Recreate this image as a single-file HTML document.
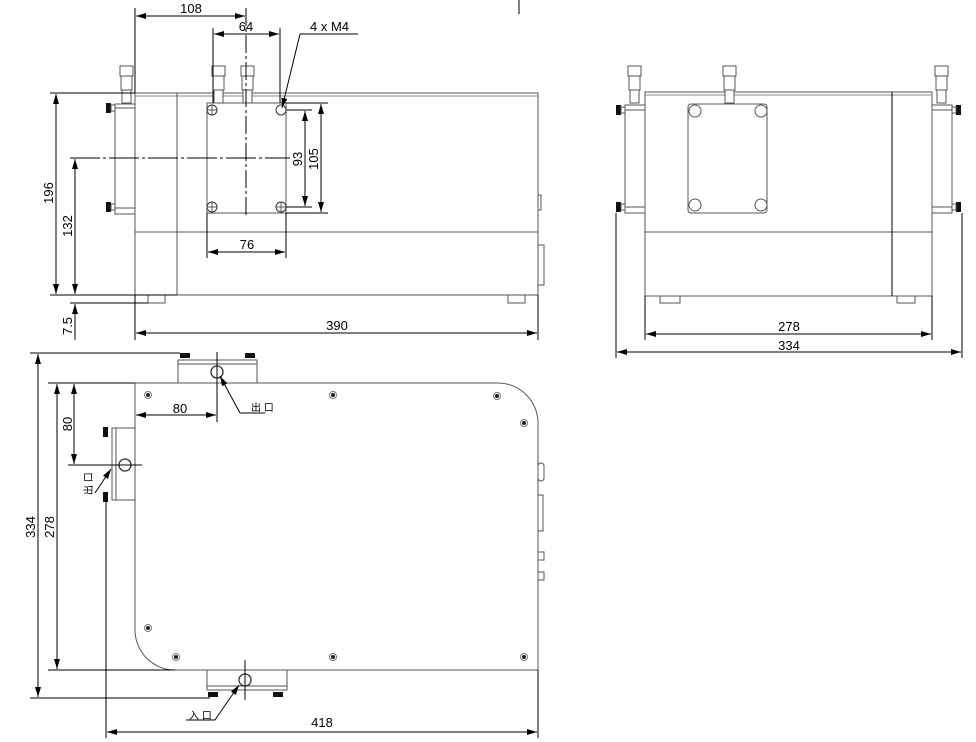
<!DOCTYPE html>
<html><head><meta charset="utf-8"><style>
html,body{margin:0;padding:0;background:#fff;}
svg{display:block;}
text{font-family:"Liberation Sans","Noto Sans CJK SC",sans-serif;fill:#000;}
</style></head><body>
<svg width="976" height="742" viewBox="0 0 976 742" xmlns="http://www.w3.org/2000/svg">
<defs>
<marker id="a" viewBox="0 0 10 6" refX="10" refY="3" markerWidth="10" markerHeight="6" orient="auto-start-reverse" markerUnits="userSpaceOnUse"><path d="M0,0 L10,3 L0,6 z" fill="#000"/></marker>
<g id="fit"><rect x="0" y="0" width="13" height="10" fill="#fff" stroke="#555" stroke-width="1"/><rect x="1" y="10" width="11" height="14" fill="#fff" stroke="#555"/><rect x="2" y="24" width="9" height="13" fill="#fff" stroke="#555"/></g>
<g id="knobL"><rect x="0" y="-5" width="5" height="10" fill="#111"/><rect x="5" y="-3" width="4" height="6" fill="#fff" stroke="#555"/></g>
<g id="knobR"><rect x="4" y="-5" width="5" height="10" fill="#111"/><rect x="0" y="-3" width="4" height="6" fill="#fff" stroke="#555"/></g>
<g id="scr"><circle r="3.5" fill="#fff" stroke="#777"/><circle r="2" fill="#222"/></g>
</defs>
<g fill="none" stroke="#555" stroke-width="1">
<rect x="135" y="93" width="403" height="202"/>
<line x1="135" y1="96" x2="538" y2="96" stroke="#888"/>
<line x1="177" y1="93" x2="177" y2="295"/>
<line x1="135" y1="232" x2="538" y2="232"/>
<rect x="115" y="104" width="20" height="110"/>
<line x1="115" y1="108" x2="135" y2="108"/><line x1="115" y1="208" x2="135" y2="208"/>
<rect x="207" y="103" width="79" height="110"/>
<rect x="148" y="295" width="17" height="8"/><rect x="508" y="295" width="17" height="8"/>
<rect x="538" y="245" width="6" height="40"/><rect x="538" y="195" width="3" height="15"/>
</g>
<use href="#fit" x="120" y="66"/><use href="#fit" x="212" y="66"/><use href="#fit" x="241" y="66"/>
<use href="#knobL" x="106" y="108"/><use href="#knobL" x="106" y="207"/>
<g fill="#fff" stroke="#333" stroke-width="1">
<circle cx="212" cy="110" r="5"/><circle cx="281" cy="110" r="5"/><circle cx="212" cy="207" r="5"/><circle cx="281" cy="207" r="5"/>
</g>
<g stroke="#333" stroke-width="0.8">
<line x1="207" y1="110" x2="217" y2="110"/><line x1="212" y1="105" x2="212" y2="115"/>
<line x1="207" y1="207" x2="217" y2="207"/><line x1="212" y1="202" x2="212" y2="212"/>
<line x1="276" y1="207" x2="286" y2="207"/><line x1="281" y1="202" x2="281" y2="212"/>
</g>
<g stroke="#000" stroke-width="1" fill="none">
<line x1="135" y1="8" x2="135" y2="93"/><line x1="246" y1="8" x2="246" y2="215" stroke-dasharray="18,3,3,3"/>
<line x1="136" y1="16" x2="245" y2="16" marker-start="url(#a)" marker-end="url(#a)"/>
<line x1="213" y1="28" x2="213" y2="103"/><line x1="280" y1="28" x2="280" y2="103"/>
<line x1="214" y1="34" x2="279" y2="34" marker-start="url(#a)" marker-end="url(#a)"/>
<line x1="300" y1="34" x2="358" y2="34"/><line x1="300" y1="34" x2="282" y2="108" marker-end="url(#a)"/>
<line x1="286" y1="110" x2="312" y2="110"/><line x1="286" y1="207" x2="312" y2="207"/>
<line x1="305" y1="111" x2="305" y2="206" marker-start="url(#a)" marker-end="url(#a)"/>
<line x1="286" y1="103" x2="328" y2="103"/><line x1="286" y1="213" x2="328" y2="213"/>
<line x1="321" y1="104" x2="321" y2="212" marker-start="url(#a)" marker-end="url(#a)"/>
<line x1="207" y1="213" x2="207" y2="258"/><line x1="286" y1="213" x2="286" y2="258"/>
<line x1="208" y1="252" x2="285" y2="252" marker-start="url(#a)" marker-end="url(#a)"/>
<line x1="50" y1="93" x2="135" y2="93"/><line x1="50" y1="295" x2="177" y2="295"/>
<line x1="56" y1="94" x2="56" y2="294" marker-start="url(#a)" marker-end="url(#a)"/>
<line x1="70" y1="158" x2="290" y2="158" stroke-dasharray="30,3,3,3"/>
<line x1="75" y1="159" x2="75" y2="294" marker-start="url(#a)" marker-end="url(#a)"/>
<line x1="70" y1="303" x2="148" y2="303"/><line x1="75" y1="304" x2="75" y2="340" marker-start="url(#a)"/>
<line x1="135" y1="295" x2="135" y2="340"/><line x1="538" y1="295" x2="538" y2="340"/>
<line x1="136" y1="333" x2="537" y2="333" marker-start="url(#a)" marker-end="url(#a)"/>
<line x1="519" y1="0" x2="519" y2="14"/>
</g>
<g font-size="13">
<text x="191" y="13" text-anchor="middle">108</text>
<text x="246" y="31" text-anchor="middle">64</text>
<text x="310" y="31">4 x  M4</text>
<text x="247" y="249" text-anchor="middle">76</text>
<text x="337" y="330" text-anchor="middle">390</text>
<text transform="translate(302,159) rotate(-90)" text-anchor="middle">93</text>
<text transform="translate(318,159) rotate(-90)" text-anchor="middle">105</text>
<text transform="translate(53,193) rotate(-90)" text-anchor="middle">196</text>
<text transform="translate(72,226) rotate(-90)" text-anchor="middle">132</text>
<text transform="translate(72,326) rotate(-90)" text-anchor="middle">7.5</text>
</g>
<g fill="none" stroke="#555" stroke-width="1">
<rect x="645" y="92" width="287" height="204"/>
<line x1="645" y1="95" x2="932" y2="95" stroke="#888"/>
<line x1="645" y1="232" x2="932" y2="232"/>
<line x1="892" y1="92" x2="892" y2="296" stroke="#000"/>
<rect x="688" y="104" width="79" height="109" rx="3"/>
<circle cx="695" cy="111" r="6" fill="#fff"/><circle cx="761" cy="111" r="6" fill="#fff"/>
<circle cx="695" cy="205" r="6" fill="#fff"/><circle cx="761" cy="205" r="6" fill="#fff"/>
<rect x="625" y="105" width="20" height="108"/><line x1="625" y1="110" x2="645" y2="110"/><line x1="625" y1="207" x2="645" y2="207"/>
<rect x="932" y="105" width="20" height="108"/><line x1="932" y1="110" x2="952" y2="110"/><line x1="932" y1="207" x2="952" y2="207"/>
<rect x="660" y="296" width="20" height="7"/><rect x="897" y="296" width="18" height="7"/>
</g>
<use href="#fit" x="628" y="66"/><use href="#fit" x="723" y="66"/><use href="#fit" x="935" y="66"/>
<use href="#knobL" x="616" y="110"/><use href="#knobL" x="616" y="207"/>
<use href="#knobR" x="952" y="110"/><use href="#knobR" x="952" y="207"/>
<g stroke="#000" fill="none">
<line x1="645" y1="296" x2="645" y2="340"/><line x1="932" y1="296" x2="932" y2="340"/>
<line x1="646" y1="334" x2="931" y2="334" marker-start="url(#a)" marker-end="url(#a)"/>
<line x1="616" y1="213" x2="616" y2="358"/><line x1="962" y1="213" x2="962" y2="358"/>
<line x1="617" y1="352" x2="961" y2="352" marker-start="url(#a)" marker-end="url(#a)"/>
</g>
<g font-size="13"><text x="789" y="331" text-anchor="middle">278</text><text x="789" y="350" text-anchor="middle">334</text></g>
<g fill="none" stroke="#555" stroke-width="1">
<path d="M135,383 H498 A40,40 0 0 1 538,423 V670 H175 A40,40 0 0 1 135,630 Z"/>
<rect x="178" y="360" width="79" height="23"/><line x1="178" y1="364" x2="257" y2="364"/>
<rect x="207" y="670" width="80" height="20"/><line x1="207" y1="686" x2="287" y2="686"/>
<rect x="112" y="428" width="23" height="72"/><line x1="116" y1="428" x2="116" y2="500"/>
<rect x="538" y="463" width="6" height="18" rx="3"/><rect x="538" y="495" width="5" height="36"/>
<rect x="538" y="552" width="6" height="8"/><rect x="538" y="572" width="6" height="8"/>
</g>
<g fill="#111">
<rect x="180" y="353" width="10" height="5"/><rect x="245" y="353" width="10" height="5"/>
<rect x="208" y="692" width="10" height="5"/><rect x="273" y="692" width="10" height="5"/>
<rect x="103" y="427" width="5" height="10"/><rect x="103" y="492" width="5" height="10"/>
</g>
<g fill="#fff" stroke="#333" stroke-width="1.3">
<circle cx="217" cy="372" r="6"/><circle cx="245" cy="680" r="6"/><circle cx="125" cy="465" r="6"/>
</g>
<use href="#scr" x="148" y="395"/><use href="#scr" x="333" y="395"/><use href="#scr" x="497" y="396"/>
<use href="#scr" x="524" y="423"/><use href="#scr" x="148" y="628"/><use href="#scr" x="176" y="657"/>
<use href="#scr" x="333" y="657"/><use href="#scr" x="524" y="657"/>
<g stroke="#000" fill="none">
<line x1="30" y1="353" x2="180" y2="353"/><line x1="30" y1="698" x2="210" y2="698"/>
<line x1="38" y1="354" x2="38" y2="697" marker-start="url(#a)" marker-end="url(#a)"/>
<line x1="48" y1="383" x2="135" y2="383"/><line x1="48" y1="670" x2="175" y2="670"/>
<line x1="57" y1="384" x2="57" y2="669" marker-start="url(#a)" marker-end="url(#a)"/>
<line x1="74" y1="384" x2="74" y2="464" marker-start="url(#a)" marker-end="url(#a)"/>
<line x1="68" y1="465" x2="142" y2="465"/>
<line x1="217" y1="352" x2="217" y2="422"/>
<line x1="136" y1="415" x2="216" y2="415" marker-start="url(#a)" marker-end="url(#a)"/>
<line x1="245" y1="660" x2="245" y2="700"/>
<line x1="240" y1="413" x2="220" y2="376" marker-end="url(#a)"/>
<line x1="95" y1="493" x2="111" y2="469" marker-end="url(#a)"/>
<line x1="186" y1="720" x2="215" y2="720"/><line x1="215" y1="720" x2="239" y2="685" marker-end="url(#a)"/>
<line x1="106" y1="497" x2="106" y2="738"/><line x1="538" y1="670" x2="538" y2="738"/>
<line x1="107" y1="732" x2="537" y2="732" marker-start="url(#a)" marker-end="url(#a)"/>
<line x1="240" y1="413" x2="265" y2="413"/>
</g>
<g font-size="13">
<text x="180" y="413" text-anchor="middle">80</text>
<text transform="translate(72,424) rotate(-90)" text-anchor="middle">80</text>
<text transform="translate(54,527) rotate(-90)" text-anchor="middle">278</text>
<text transform="translate(35,527) rotate(-90)" text-anchor="middle">334</text>
<text x="322" y="727" text-anchor="middle">418</text>
</g>
<g font-size="10">
<text x="251" y="411">出 口</text>
<text x="189" y="719">入 口</text>
<text transform="translate(92,495) rotate(-90)">出 口</text>
</g>
</svg>
</body></html>
